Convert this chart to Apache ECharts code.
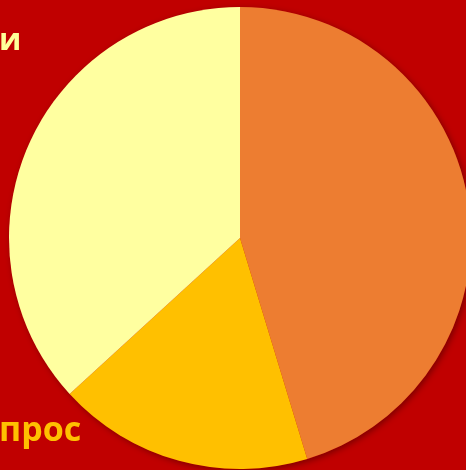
<!DOCTYPE html>
<html><head><meta charset="utf-8">
<script src="https://cdn.jsdelivr.net/npm/echarts@6/dist/echarts.min.js"></script>
<style>html,body{margin:0;padding:0;background:#C00000;}#c{width:466px;height:470px;}</style>
</head><body><div id="c"></div>
<script>
const categories = ['A', 'B', 'C'];
const values = [45.3, 17.9, 36.8];
const colors = ['#ED7D31', '#FFC000', '#FFFFA0'];
const chart = echarts.init(document.getElementById('c'));
chart.setOption({
  backgroundColor: '#C00000',
  animation: false,
  graphic: [
    {type: 'text', left: -1, top: 26, style: {text: 'и', font: 'bold 31px "Open Sans", sans-serif', fill: '#FFFF99'}},
    {type: 'text', left: -1, top: 414, style: {text: 'прос', font: 'bold 34px "Open Sans", sans-serif', fill: '#FFC000'}}
  ],
  series: [{
    type: 'pie',
    center: [240, 238],
    radius: [0, 231],
    silent: true,
    z: 1,
    label: {show: false},
    labelLine: {show: false},
    itemStyle: {color: '#C00000', shadowBlur: 6, shadowColor: 'rgba(0,0,0,0.35)', shadowOffsetX: 2, shadowOffsetY: 2},
    emphasis: {disabled: true},
    data: [{name: 'shadow', value: 1}]
  }, {
    type: 'pie',
    center: [240, 238],
    radius: [0, 231],
    startAngle: 90,
    clockwise: true,
    z: 2,
    label: {show: false},
    labelLine: {show: false},
    emphasis: {disabled: true},
    data: categories.map((c, i) => ({name: c, value: values[i], itemStyle: {color: colors[i]}}))
  }]
});
</script></body></html>
